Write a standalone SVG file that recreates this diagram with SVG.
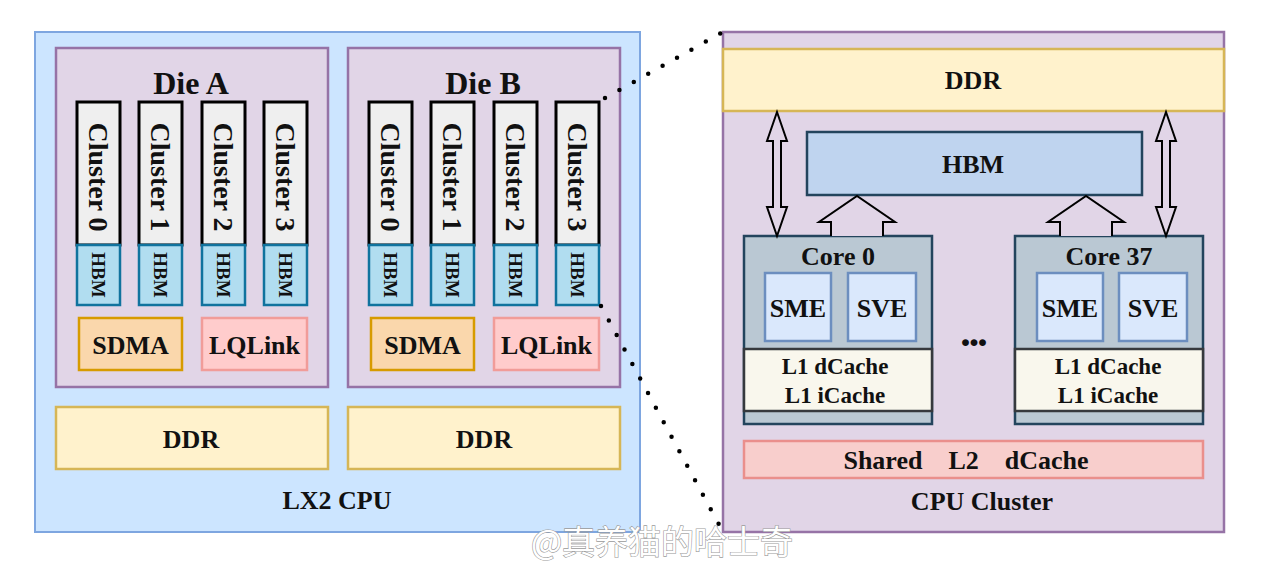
<svg xmlns="http://www.w3.org/2000/svg" width="1272" height="570" viewBox="0 0 1272 570">
<style>
text{font-family:"Liberation Serif","Times New Roman",serif;font-weight:bold;fill:#111;text-anchor:middle;dominant-baseline:central}
.cpu{fill:#cce5ff;stroke:#7ea6e0;stroke-width:2}
.die{fill:#e1d5e7;stroke:#9673a6;stroke-width:2.5}
.cl{fill:#efefef;stroke:#000;stroke-width:3}
.hbm{fill:#b1ddf0;stroke:#10739e;stroke-width:2.5}
.sdma{fill:#fad7ac;stroke:#d79b00;stroke-width:2.5}
.lq{fill:#ffcccc;stroke:#f19c99;stroke-width:2.5}
.ddr{fill:#fff2cc;stroke:#d6b656;stroke-width:2.5}
.hbm2{fill:#bfd4ef;stroke:#23445d;stroke-width:2.5}
.core{fill:#bac8d3;stroke:#23445d;stroke-width:2.5}
.unit{fill:#dae8fc;stroke:#6c8ebf;stroke-width:2.5}
.l1{fill:#f9f7ed;stroke:#36393d;stroke-width:2.5}
.l2{fill:#f8cecc;stroke:#ea8f8c;stroke-width:2.5}
.arr{fill:#e1d5e7;stroke:#000;stroke-width:2;stroke-linejoin:miter}
.dot{fill:none;stroke:#000;stroke-width:4.5;stroke-linecap:round;stroke-dasharray:0 16.5}
.t32{font-size:32px}.t28{font-size:28px}.t26{font-size:26px}.t23{font-size:23px}.t19{font-size:19px}
</style>

<g id="lx2-cpu">
<rect class="cpu" x="35" y="32" width="605" height="500"/>
<text class="t26" x="337" y="500">LX2 CPU</text>
</g>

<g id="die-a">
<rect class="die" x="56" y="48" width="272" height="339"/>
<text class="t32" x="191" y="83">Die A</text>
</g>
<g id="die-a-cluster0"><rect class="cl" x="77" y="102" width="43" height="143"/><text class="t28" transform="rotate(90 98.5 177)" x="98.5" y="177">Cluster 0</text></g>
<g id="die-a-cluster1"><rect class="cl" x="139" y="102" width="43" height="143"/><text class="t28" transform="rotate(90 160.5 177)" x="160.5" y="177">Cluster 1</text></g>
<g id="die-a-cluster2"><rect class="cl" x="202" y="102" width="43" height="143"/><text class="t28" transform="rotate(90 223.5 177)" x="223.5" y="177">Cluster 2</text></g>
<g id="die-a-cluster3"><rect class="cl" x="264" y="102" width="43" height="143"/><text class="t28" transform="rotate(90 285.5 177)" x="285.5" y="177">Cluster 3</text></g>
<g id="die-a-hbm0"><rect class="hbm" x="77" y="245" width="43" height="60"/><text class="t19" transform="rotate(90 98.5 275)" x="98.5" y="275">HBM</text></g>
<g id="die-a-hbm1"><rect class="hbm" x="139" y="245" width="43" height="60"/><text class="t19" transform="rotate(90 160.5 275)" x="160.5" y="275">HBM</text></g>
<g id="die-a-hbm2"><rect class="hbm" x="202" y="245" width="43" height="60"/><text class="t19" transform="rotate(90 223.5 275)" x="223.5" y="275">HBM</text></g>
<g id="die-a-hbm3"><rect class="hbm" x="264" y="245" width="43" height="60"/><text class="t19" transform="rotate(90 285.5 275)" x="285.5" y="275">HBM</text></g>
<g id="die-a-sdma"><rect class="sdma" x="79" y="318" width="103" height="52"/><text class="t26" x="130.5" y="345">SDMA</text></g>
<g id="die-a-lqlink"><rect class="lq" x="202" y="318" width="105" height="52"/><text class="t26" x="254.5" y="345">LQLink</text></g>
<g id="die-a-ddr"><rect class="ddr" x="56" y="407" width="272" height="62"/><text class="t26" x="191" y="439">DDR</text></g>

<g id="die-b">
<rect class="die" x="348" y="48" width="272" height="339"/>
<text class="t32" x="483" y="83">Die B</text>
</g>
<g id="die-b-cluster0"><rect class="cl" x="369" y="102" width="43" height="143"/><text class="t28" transform="rotate(90 390.5 177)" x="390.5" y="177">Cluster 0</text></g>
<g id="die-b-cluster1"><rect class="cl" x="431" y="102" width="43" height="143"/><text class="t28" transform="rotate(90 452.5 177)" x="452.5" y="177">Cluster 1</text></g>
<g id="die-b-cluster2"><rect class="cl" x="494" y="102" width="43" height="143"/><text class="t28" transform="rotate(90 515.5 177)" x="515.5" y="177">Cluster 2</text></g>
<g id="die-b-cluster3"><rect class="cl" x="556" y="102" width="43" height="143"/><text class="t28" transform="rotate(90 577.5 177)" x="577.5" y="177">Cluster 3</text></g>
<g id="die-b-hbm0"><rect class="hbm" x="369" y="245" width="43" height="60"/><text class="t19" transform="rotate(90 390.5 275)" x="390.5" y="275">HBM</text></g>
<g id="die-b-hbm1"><rect class="hbm" x="431" y="245" width="43" height="60"/><text class="t19" transform="rotate(90 452.5 275)" x="452.5" y="275">HBM</text></g>
<g id="die-b-hbm2"><rect class="hbm" x="494" y="245" width="43" height="60"/><text class="t19" transform="rotate(90 515.5 275)" x="515.5" y="275">HBM</text></g>
<g id="die-b-hbm3"><rect class="hbm" x="556" y="245" width="43" height="60"/><text class="t19" transform="rotate(90 577.5 275)" x="577.5" y="275">HBM</text></g>
<g id="die-b-sdma"><rect class="sdma" x="371" y="318" width="103" height="52"/><text class="t26" x="422.5" y="345">SDMA</text></g>
<g id="die-b-lqlink"><rect class="lq" x="494" y="318" width="105" height="52"/><text class="t26" x="546.5" y="345">LQLink</text></g>
<g id="die-b-ddr"><rect class="ddr" x="348" y="407" width="272" height="62"/><text class="t26" x="484" y="439">DDR</text></g>

<g id="cpu-cluster">
<rect class="die" x="723" y="32" width="501" height="500"/>
<text class="t26" x="982" y="501">CPU Cluster</text>
</g>
<g id="cluster-ddr"><rect class="ddr" x="723" y="49" width="501" height="62"/><text class="t26" x="973" y="80">DDR</text></g>
<g id="cluster-hbm"><rect class="hbm2" x="807" y="132" width="335" height="63"/><text class="t26" x="973" y="164">HBM</text></g>

<g id="core0">
<rect class="core" x="744" y="236" width="188" height="188"/>
<text class="t26" x="838" y="256">Core 0</text>
<rect class="unit" x="765" y="273" width="66" height="68"/><text class="t26" x="798" y="308">SME</text>
<rect class="unit" x="848" y="273" width="68" height="68"/><text class="t26" x="882" y="308">SVE</text>
<rect class="l1" x="744" y="349" width="188" height="62"/>
<text class="t23" x="835" y="366">L1 dCache</text>
<text class="t23" x="835" y="395">L1 iCache</text>
</g>

<g id="core37">
<rect class="core" x="1015" y="236" width="188" height="188"/>
<text class="t26" x="1109" y="256">Core 37</text>
<rect class="unit" x="1037" y="273" width="66" height="68"/><text class="t26" x="1070" y="308">SME</text>
<rect class="unit" x="1119" y="273" width="68" height="68"/><text class="t26" x="1153" y="308">SVE</text>
<rect class="l1" x="1015" y="349" width="188" height="62"/>
<text class="t23" x="1108" y="366">L1 dCache</text>
<text class="t23" x="1108" y="395">L1 iCache</text>
</g>

<g id="ellipsis"><text x="973" y="332" style="font-size:42px;letter-spacing:-2px">...</text></g>

<g id="shared-l2"><rect class="l2" x="744" y="441" width="459" height="37"/><text class="t26" x="966" y="460" xml:space="preserve" style="white-space:pre">Shared    L2    dCache</text></g>

<g id="connectors">
<path class="arr" d="M773,141 L767,141 L777,112 L787,141 L781,141 L781,207 L787,207 L777,236 L767,207 L773,207 Z"/>
<path class="arr" d="M1162,141 L1156,141 L1166,112 L1176,141 L1170,141 L1170,207 L1176,207 L1166,236 L1156,207 L1162,207 Z"/>
<path class="arr" d="M831,236 L831,222 L819,222 L857,196 L895,222 L883,222 L883,236"/>
<path class="arr" d="M1060,236 L1060,222 L1048,222 L1086,196 L1124,222 L1112,222 L1112,236"/>
<line class="dot" x1="605" y1="98" x2="723" y2="32"/>
<line class="dot" x1="601" y1="306" x2="723" y2="532"/>
</g>

<g id="watermark">
<text x="662" y="540" style="font-family:'Noto Sans CJK SC',sans-serif;font-weight:normal;font-size:33px;fill:#fff;stroke:#9a9a9a;stroke-width:1.2;paint-order:stroke">@真养猫的哈士奇</text>
</g>
</svg>
